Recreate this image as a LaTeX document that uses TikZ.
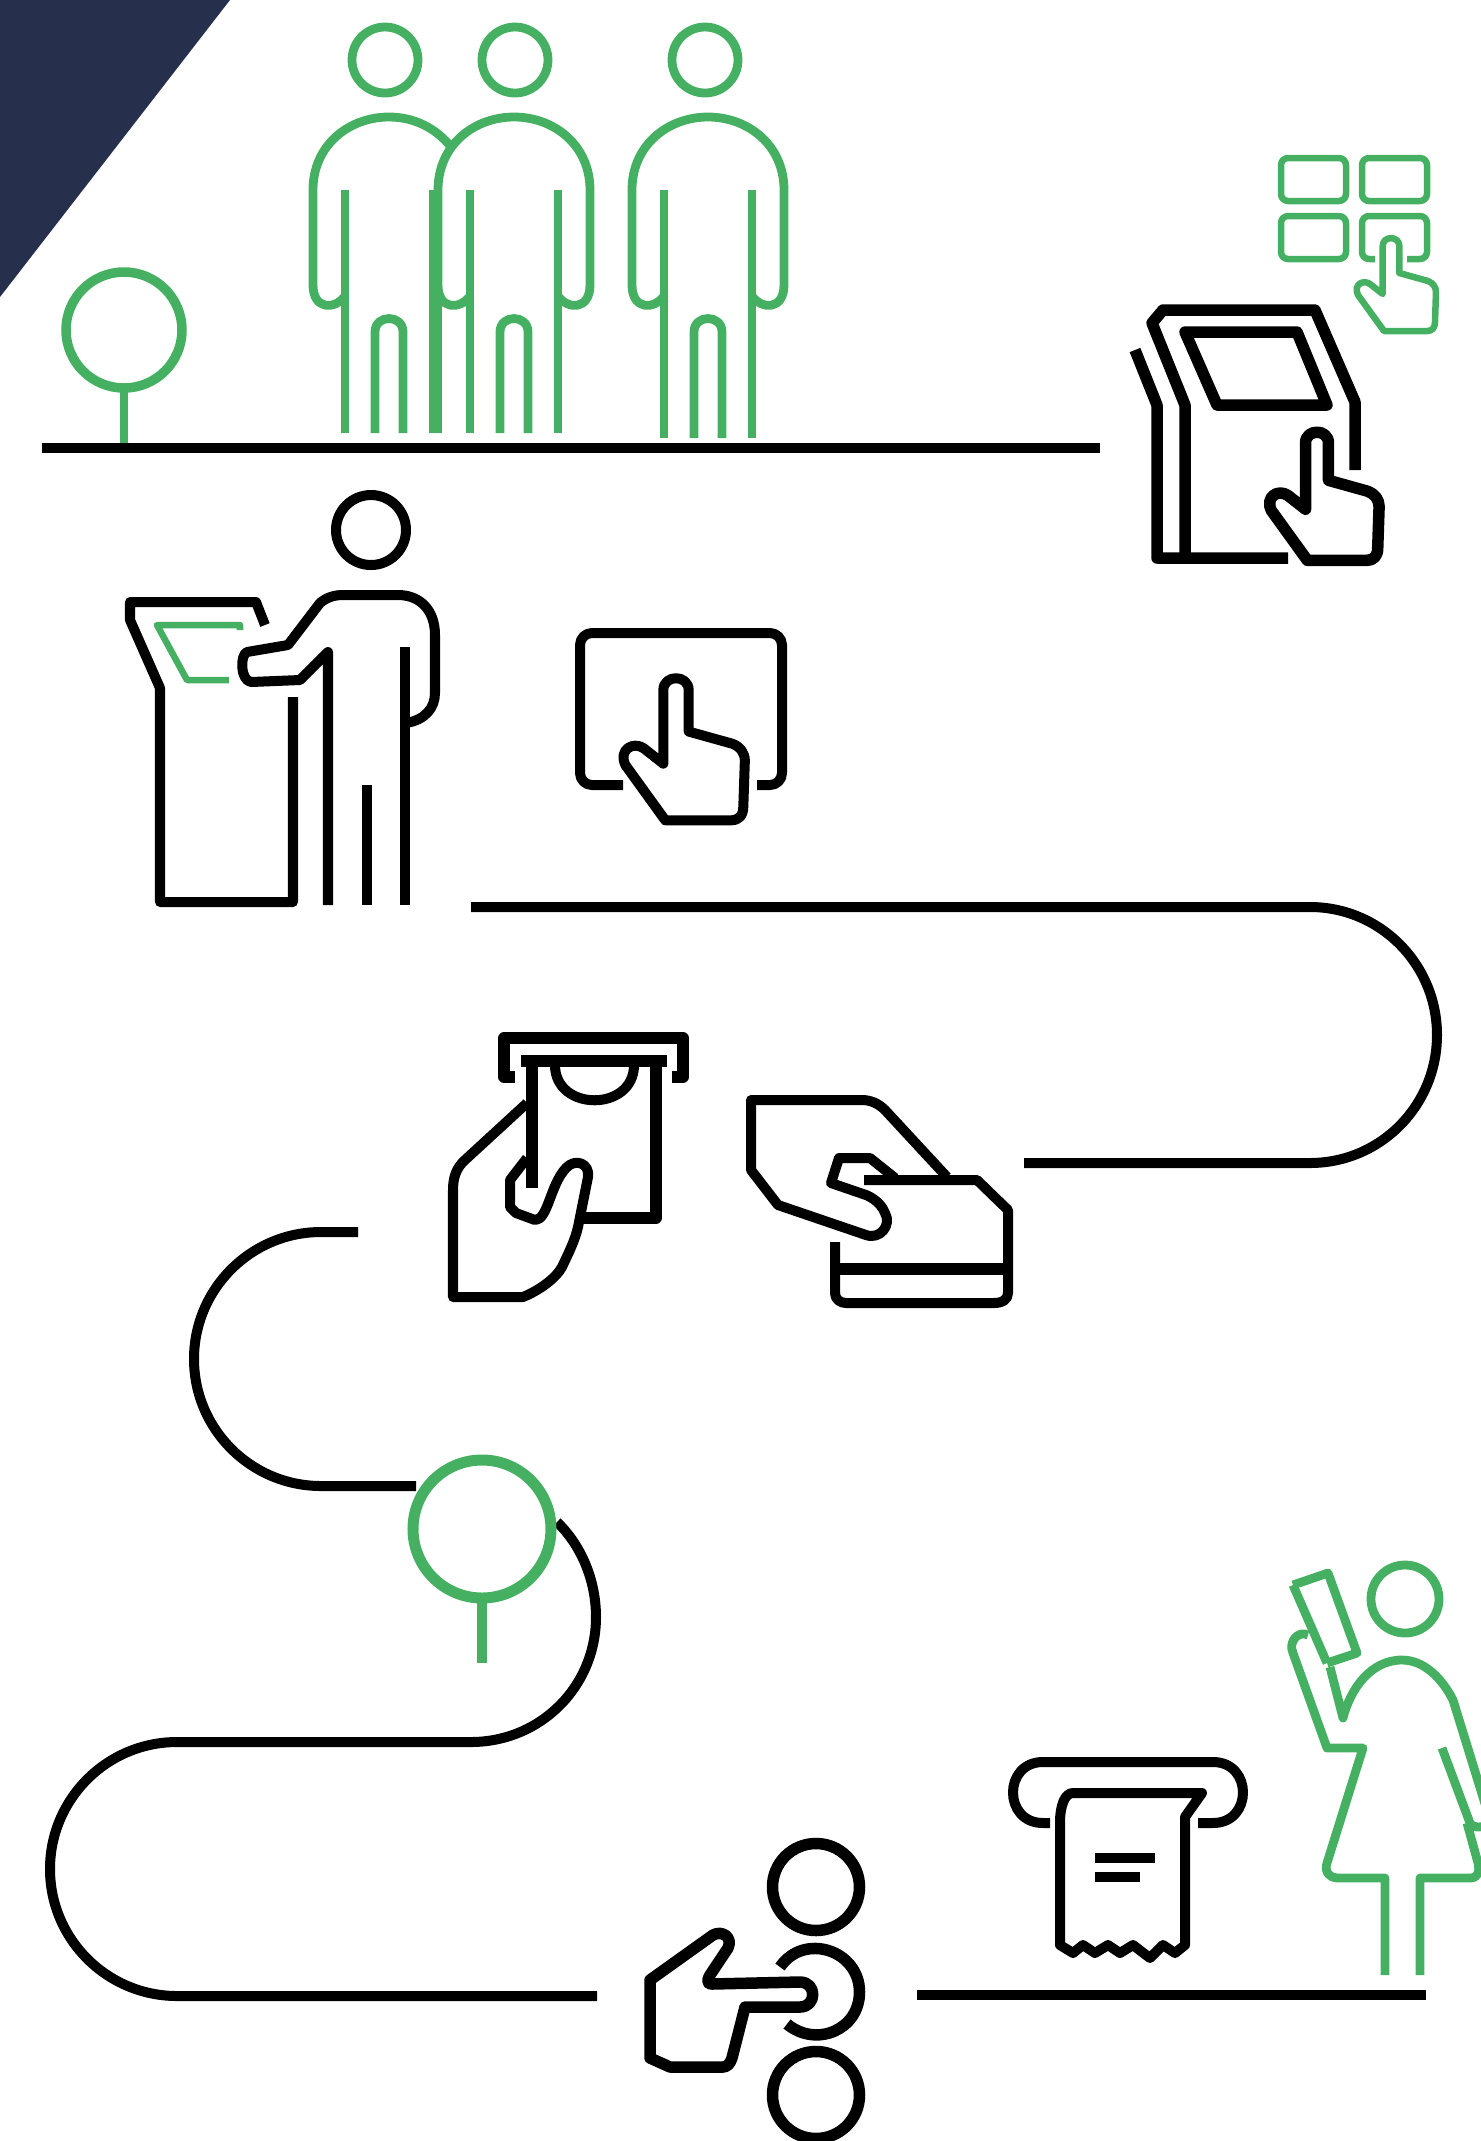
\documentclass[tikz,border=0pt]{standalone}
\usepackage{tikz}
\definecolor{cnavy}{RGB}{38,47,76}
\definecolor{cgreen}{RGB}{70,176,98}
\tikzset{
  blackline/.style={black, line width=0.1cm, line join=round},
  kioskline/.style={black, line width=0.115cm, line join=round},
  greenline/.style={cgreen, line width=0.088cm, line join=round},
  thingreen/.style={cgreen, line width=0.065cm, line join=round},
}
\newcommand{\tapHand}[4]{
  \begin{scope}[shift={(#1,#2)},scale=#3]
    \draw[#4] (-8.3,56) -- (-8.3,8) .. controls (-8.3,-2.5) and (8.3,-2.5) .. (8.3,8) -- (8.3,35) -- (37,43)
      .. controls (42,45) and (45,49) .. (45,54) -- (44,84) .. controls (44,90) and (41,93) .. (36,93) -- (-7,93)
      -- (-33,57) .. controls (-38,47) and (-28,41) .. (-21,46) -- cycle;
  \end{scope}
}
\newcommand{\crowdLegs}[2]{
  \draw[greenline] (#1-44,190) -- (#1-44,#2); \draw[greenline] (#1+44,190) -- (#1+44,#2);
  \draw[greenline] (#1-14,#2) -- (#1-14,332) .. controls (#1-14,314) and (#1+14,314) .. (#1+14,332) -- (#1+14,#2);
}
\begin{document}
\begin{tikzpicture}[x=0.01cm,y=-0.01cm]
    \useasboundingbox (0,0) rectangle (1481,2141);
    \clip (0,0) rectangle (1481,2141);
    \fill[cnavy] (0,0) -- (230,0) -- (0,297) -- cycle;
    % first row
    \draw[greenline, line width=0.095cm] (124,330) circle[radius=58];
    \draw[greenline] (124,392) -- (124,444);
    \draw[blackline] (42,448) -- (1100,448);
    \draw[greenline] (385,60) circle[radius=33];
    \draw[greenline] (515,60) circle[radius=33];
    \draw[greenline] (705,60) circle[radius=33];
    \crowdLegs{389}{433}
    \crowdLegs{514}{433}
    \crowdLegs{708}{438}
    \draw[greenline] (345,296) .. controls (335,310) and (313,310) .. (313,285) -- (313,190) .. controls (313,145) and (349,117) .. (389,117) .. controls (414,117) and (436,128) .. (451,147);
    \draw[greenline] (470,296) .. controls (460,310) and (438,310) .. (438,285) -- (438,190) .. controls (438,145) and (474,117) .. (514,117) .. controls (554,117) and (590,145) .. (590,190) -- (590,285) .. controls (590,310) and (568,310) .. (558,296);
    \draw[greenline] (438,285) -- (438,433);
    \draw[greenline] (664,296) .. controls (654,310) and (632,310) .. (632,285) -- (632,190) .. controls (632,145) and (668,117) .. (708,117) .. controls (748,117) and (784,145) .. (784,190) -- (784,285) .. controls (784,310) and (762,310) .. (752,296);
    % keypad
    \draw[thingreen, rounded corners=0.07cm] (1281,158) rectangle (1346,201);
    \draw[thingreen, rounded corners=0.07cm] (1362,158) rectangle (1427,201);
    \draw[thingreen, rounded corners=0.07cm] (1281,216) rectangle (1346,259);
    \draw[thingreen, rounded corners=0.07cm] (1375,259) -- (1362,259) -- (1362,216) -- (1427,216) -- (1427,259) -- (1407,259);
    \tapHand{1391}{238}{1}{thingreen}
    % first kiosk
    \draw[kioskline] (1288,558) -- (1157,558) -- (1157,405) -- (1135,350);
    \draw[kioskline] (1185,558) -- (1185,405) -- (1152,323) -- (1163,310) -- (1315,310) -- (1355,402) -- (1355,470);
    \draw[kioskline] (1185,332) -- (1297,332) -- (1327,405) -- (1217,405) -- cycle;
    \tapHand{1317}{432}{1.38}{kioskline}
    % person at the kiosk
    \draw[blackline] (371,530) circle[radius=35];
    \draw[blackline] (265,625) -- (256,602) -- (130,602) -- (130,620) -- (160,688) -- (160,902) -- (293,902) -- (293,697);
    \draw[thingreen] (240,630) -- (240,625) -- (157,625) -- (187,680) -- (229,680);
    \draw[blackline] (328,905) -- (328,652) -- (300,680) -- (251,682) .. controls (240,680) and (240,655) .. (247,652) -- (288,645) -- (320,603) .. controls (327,597) and (335,595) .. (343,595) -- (398,595) .. controls (420,595) and (435,610) .. (435,635) -- (435,693) .. controls (435,708) and (425,720) .. (406,723);
    \draw[blackline] (405,647) -- (405,905);
    \draw[blackline] (367,785) -- (367,905);
    % tablet
    \draw[blackline, rounded corners=0.12cm] (623,785) -- (580,785) -- (580,633) -- (782,633) -- (782,785) -- (757,785);
    \tapHand{676}{678}{1.53}{blackline}
    % road
    \draw[blackline] (471,907) -- (1310,907) .. controls (1380,907) and (1437,964) .. (1437,1035) .. controls (1437,1106) and (1380,1163) .. (1310,1163) -- (1024,1163);
    % banknote
    \draw[kioskline] (515,1077) -- (504,1077) -- (504,1038) -- (683,1038) -- (683,1077) -- (672,1077);
    \draw[kioskline] (521,1061) -- (667,1061);
    \draw[kioskline] (532,1061) -- (532,1188);
    \draw[kioskline] (656,1061) -- (656,1218) -- (584,1218);
    \draw[blackline] (555,1065) .. controls (555,1112) and (634,1112) .. (634,1065);
    \draw[blackline] (527,1103) -- (465,1160) .. controls (456,1168) and (453,1178) .. (453,1190) -- (453,1297) -- (523,1297) .. controls (540,1290) and (556,1278) .. (562,1267) .. controls (570,1250) and (575,1240) .. (578,1227) -- (588,1177) .. controls (590,1163) and (575,1158) .. (566,1168) .. controls (550,1185) and (548,1220) .. (535,1220) -- (516,1213) -- (510,1207) -- (510,1180) -- (527,1158);
    % card
    \draw[blackline] (947,1177) -- (885,1110) .. controls (878,1103) and (870,1100) .. (862,1100) -- (751,1100) -- (751,1170) -- (778,1205) -- (866,1235) .. controls (880,1240) and (892,1225) .. (885,1213) .. controls (880,1200) and (866,1195) .. (866,1195) -- (831,1183) -- (839,1158) -- (870,1158) -- (895,1178);
    \draw[blackline] (864,1180) -- (977,1180) -- (1008,1210) -- (1008,1293) .. controls (1008,1299) and (1003,1303) .. (994,1303) -- (846,1303) .. controls (840,1303) and (835,1299) .. (835,1293) -- (835,1242);
    \draw[kioskline] (835,1269) -- (1008,1269);
    % road
    \draw[blackline] (358,1232) -- (321,1232) .. controls (251,1232) and (194,1289) .. (194,1359) .. controls (194,1429) and (251,1486) .. (321,1486) -- (416,1486);
    \draw[blackline] (557,1522) .. controls (581,1545) and (596,1580) .. (596,1617) .. controls (596,1687) and (540,1742) .. (471,1742) -- (177,1742) .. controls (107,1742) and (50,1799) .. (50,1869) .. controls (50,1939) and (107,1996) .. (177,1996) -- (597,1996);
    \draw[cgreen, line width=0.11cm] (482,1529) circle[radius=69];
    \draw[cgreen, line width=0.1cm] (482,1600) -- (482,1663);
    % buttons
    \draw[kioskline] (816,1887) circle[radius=43.5];
    \draw[kioskline] (816,2095) circle[radius=43.5];
    \draw[kioskline] (780,1967) .. controls (804,1932) and (859.5,1950) .. (859.5,1992) .. controls (859.5,2030) and (816,2048) .. (787,2024);
    \draw[kioskline] (650,1980) -- (713,1935) .. controls (722,1930) and (733,1937) .. (728,1948) -- (710,1975) .. controls (706,1982) and (708,1984) .. (712,1984) -- (800,1982) .. controls (817,1982) and (817,2007) .. (800,2007) -- (745,2007) -- (732,2058) .. controls (730,2064) and (727,2067) .. (723,2067) -- (670,2067) -- (650,2058) -- cycle;
    \draw[blackline] (917,1995) -- (1426,1995);
    % receipt
    \draw[blackline] (1050,1823) -- (1043,1823) .. controls (1003,1823) and (1003,1762) .. (1043,1762) -- (1213,1762) .. controls (1253,1762) and (1253,1823) .. (1213,1823) -- (1198,1823);
    \draw[blackline] (1060,1945) -- (1060,1823) .. controls (1060,1805) and (1065,1793) .. (1073,1793) -- (1202,1793) -- (1185,1817) -- (1185,1945) -- (1175,1953) -- (1163,1945) -- (1150,1958) -- (1133,1945) -- (1120,1953) -- (1108,1945) -- (1095,1953) -- (1083,1945) -- (1073,1953) -- cycle;
    \draw[blackline] (1095,1858) -- (1155,1858);
    \draw[blackline] (1095,1877) -- (1140,1877);
    % woman with phone
    \draw[greenline] (1405,1599) circle[radius=34];
    \draw[greenline] (1293,1585) -- (1328,1573) -- (1357,1653) -- (1327,1663);
    \draw[greenline] (1293,1585) -- (1327,1663);
    \draw[greenline] (1308,1635) .. controls (1298,1630) and (1288,1642) .. (1293,1653) -- (1327,1748) -- (1363,1748) -- (1327,1863) .. controls (1324,1872) and (1330,1878) .. (1337,1878) -- (1385,1878) -- (1385,1975);
    \draw[greenline] (1330,1667) -- (1343,1718) .. controls (1350,1690) and (1370,1660) .. (1402,1660) .. controls (1425,1660) and (1443,1680) .. (1453,1700) -- (1490,1820);
    \draw[greenline] (1442,1748) -- (1470,1823) .. controls (1474,1829) and (1480,1827) .. (1490,1825);
    \draw[greenline] (1467,1823) -- (1478,1863) .. controls (1480,1872) and (1478,1878) .. (1470,1878) -- (1420,1878) -- (1420,1975);
\end{tikzpicture}
\end{document}
